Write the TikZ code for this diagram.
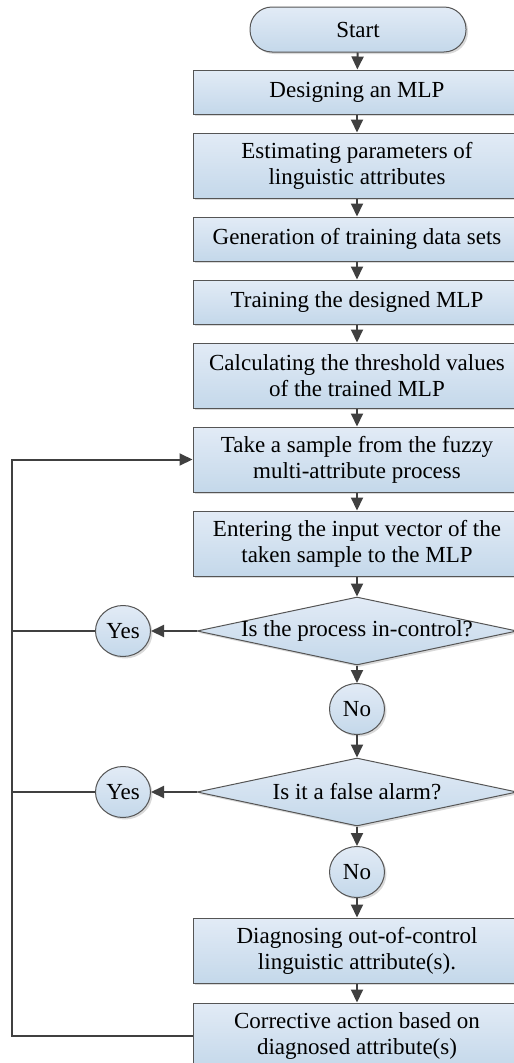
\documentclass[tikz,border=0pt]{standalone}
\usepackage{fontspec}
\setmainfont{Liberation Serif}
\usepackage{xcolor}
\usetikzlibrary{positioning, shapes.geometric, shadows, arrows.meta}
\definecolor{boxtop}{RGB}{226,235,246}
\definecolor{boxbot}{RGB}{196,216,234}
\definecolor{edgegray}{RGB}{85,85,85}
\definecolor{wiregray}{RGB}{64,64,64}

\begin{document}
\begin{tikzpicture}[x=1pt, y=1pt,
    base/.style={draw=edgegray, line width=1pt, top color=boxtop, bottom color=boxbot,
                 drop shadow={shadow xshift=2pt, shadow yshift=-2pt,
                              fill=black!25, opacity=0.6},
                 font=\fontsize{23}{26}\selectfont, align=center, inner sep=2pt},
    block/.style={base, rectangle, minimum width=328pt, minimum height=44pt},
    block2/.style={block, minimum height=65pt},
    term/.style={base, rectangle, rounded corners=22pt,
                 minimum width=216pt, minimum height=45pt},
    dec/.style={base, diamond, minimum width=320pt, minimum height=68pt,
                inner sep=0pt},
    ans/.style={base, ellipse, minimum width=55pt, minimum height=51pt,
                inner sep=0pt},
    arw/.style={-{Triangle[length=13pt, width=12pt]}, line width=2pt, draw=wiregray},
    link/.style={line width=2pt, draw=wiregray},
]
\useasboundingbox (0,0) rectangle (514,-1063);

% --- Start ---
\node[term] (start) at (358,-29.5) {Start};

% --- Preparation steps ---
\node[block] (design) at (357,-92) {Designing an MLP};
\node[block2] (estim) at (357,-165.5)
    {Estimating parameters of\\linguistic attributes};
\node[block] (gen) at (357,-239) {Generation of training data sets};
\node[block] (train) at (357,-302) {Training the designed MLP};
\node[block2] (thresh) at (357,-375.5)
    {Calculating the threshold values\\of the trained MLP};

% --- Monitoring ---
\node[block2] (sample) at (357,-459.5)
    {Take a sample from the fuzzy\\multi-attribute process};
\node[block2] (enter) at (357,-543.5)
    {Entering the input vector of the\\taken sample to the MLP};

% --- Decisions ---
\node[dec] (dec1) at (357,-631) {\makebox[0pt]{Is the process in-control?}};
\node[ans] (yes1) at (123,-631) {Yes};
\node[ans] (no1) at (357,-709) {No};
\node[dec] (dec2) at (357,-792) {\makebox[0pt]{Is it a false alarm?}};
\node[ans] (yes2) at (123,-792) {Yes};
\node[ans] (no2) at (357,-872) {No};

% --- Diagnosis ---
\node[block2] (diag) at (357,-950.5)
    {Diagnosing out-of-control\\linguistic attribute(s).};
\node[block2] (correct) at (357,-1035.5)
    {Corrective action based on\\diagnosed attribute(s)};

\coordinate (loop) at (12,-459.5);

% --- Main flow ---
\draw[arw] (start) -- (design);
\draw[arw] (design) -- (estim);
\draw[arw] (estim) -- (gen);
\draw[arw] (gen) -- (train);
\draw[arw] (train) -- (thresh);
\draw[arw] (thresh) -- (sample);
\draw[arw] (sample) -- (enter);
\draw[arw] (enter) -- (dec1);
\draw[arw] (dec1) -- (no1);
\draw[arw] (no1) -- (dec2);
\draw[arw] (dec2) -- (no2);
\draw[arw] (no2) -- (diag);
\draw[arw] (diag) -- (correct);

% --- Yes branches and feedback ---
\draw[arw] (dec1.west) -- (yes1.east);
\draw[arw] (dec2.west) -- (yes2.east);
\draw[link] (yes1.west) -- (yes1.west -| loop);
\draw[link] (yes2.west) -- (yes2.west -| loop);
\draw[arw] (correct.west) -| (loop) -- (sample.west);
\end{tikzpicture}
\end{document}
